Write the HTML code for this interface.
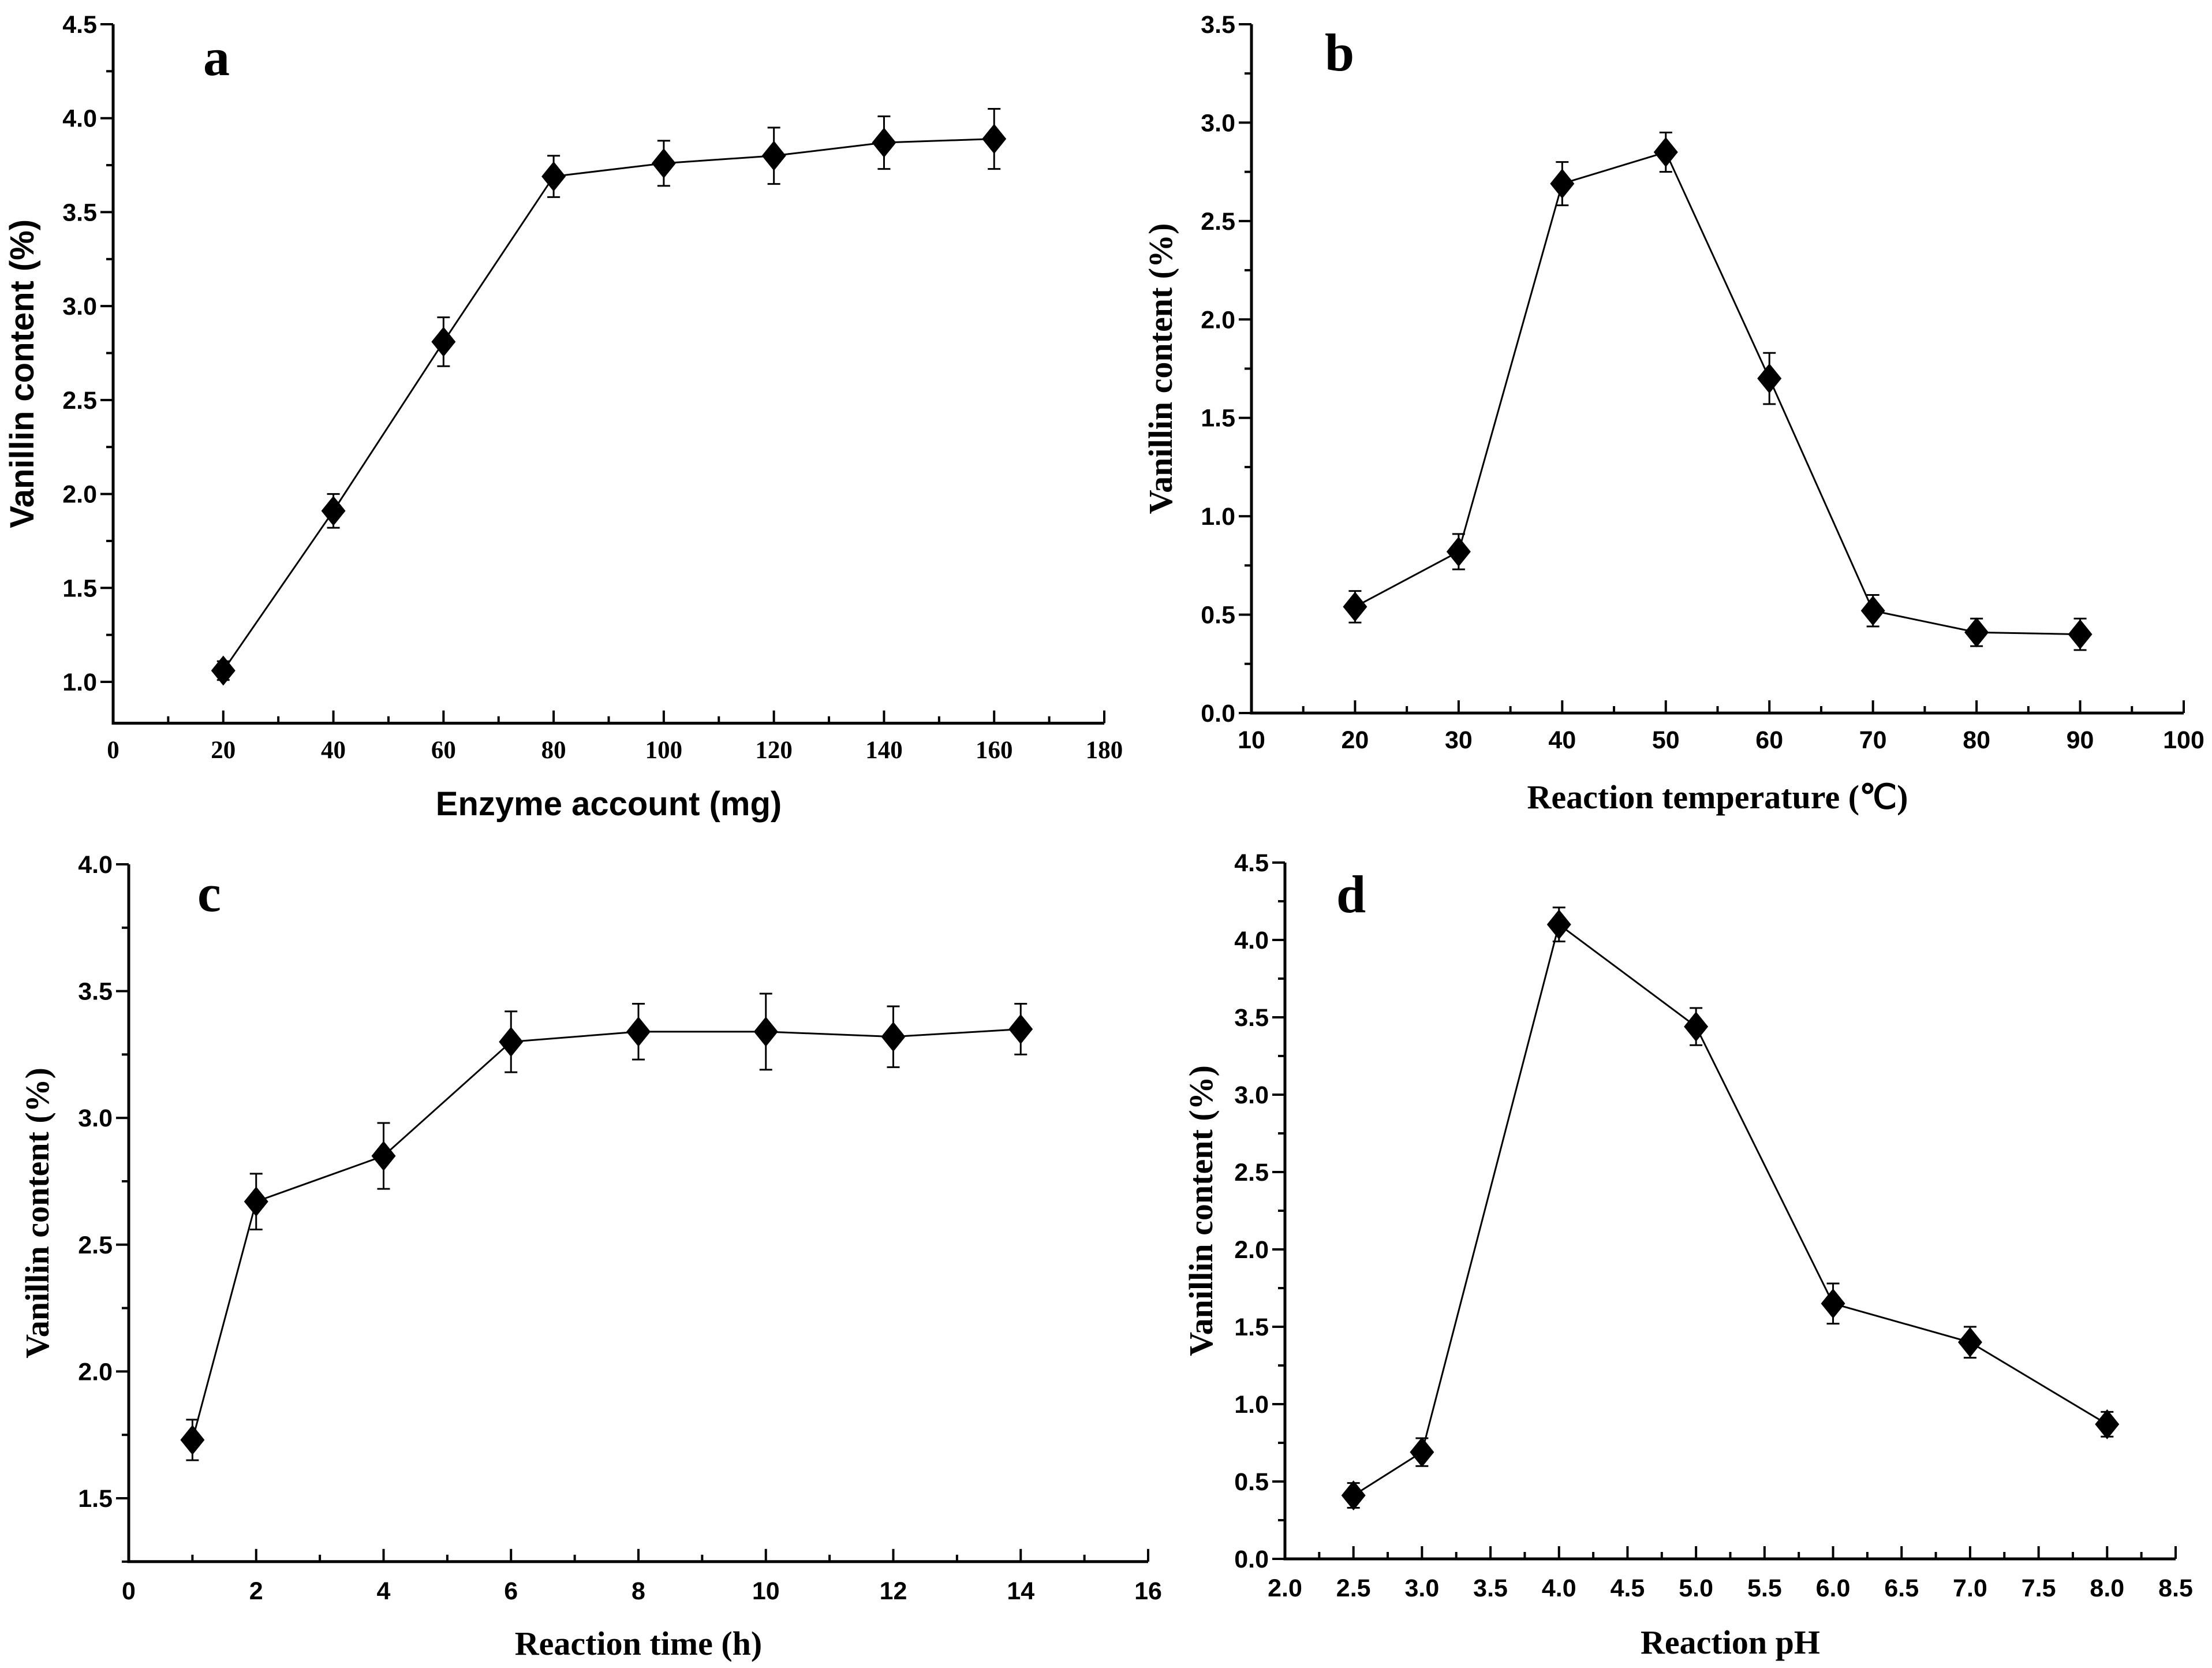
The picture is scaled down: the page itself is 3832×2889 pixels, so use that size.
<!DOCTYPE html>
<html><head><meta charset="utf-8">
<style>
html,body{margin:0;padding:0;background:#fff;}
svg{display:block;}
</style></head>
<body>
<svg id="fig" width="3832" height="2889" viewBox="0 0 3832 2889" xmlns="http://www.w3.org/2000/svg"></svg>
<script>
// Panel a
const aX = [20,40,60,80,100,120,140,160];
const aY = [1.06,1.91,2.81,3.69,3.76,3.80,3.87,3.89];
const aErr = [0.05,0.09,0.13,0.11,0.12,0.15,0.14,0.16];
const aXTicks = [0,20,40,60,80,100,120,140,160,180];
const aYTicks = [1.0,1.5,2.0,2.5,3.0,3.5,4.0,4.5];
// Panel b
const bX = [20,30,40,50,60,70,80,90];
const bY = [0.54,0.82,2.69,2.85,1.70,0.52,0.41,0.40];
const bErr = [0.08,0.09,0.11,0.10,0.13,0.08,0.07,0.08];
const bXTicks = [10,20,30,40,50,60,70,80,90,100];
const bYTicks = [0.0,0.5,1.0,1.5,2.0,2.5,3.0,3.5];
// Panel c
const cX = [1,2,4,6,8,10,12,14];
const cY = [1.73,2.67,2.85,3.30,3.34,3.34,3.32,3.35];
const cErr = [0.08,0.11,0.13,0.12,0.11,0.15,0.12,0.10];
const cXTicks = [0,2,4,6,8,10,12,14,16];
const cYTicks = [1.5,2.0,2.5,3.0,3.5,4.0];
// Panel d
const dX = [2.5,3.0,4.0,5.0,6.0,7.0,8.0];
const dY = [0.41,0.69,4.10,3.44,1.65,1.40,0.87];
const dErr = [0.08,0.09,0.11,0.12,0.13,0.10,0.08];
const dXTicks = [2.0,2.5,3.0,3.5,4.0,4.5,5.0,5.5,6.0,6.5,7.0,7.5,8.0,8.5];
const dYTicks = [0.0,0.5,1.0,1.5,2.0,2.5,3.0,3.5,4.0,4.5];

const NS = 'http://www.w3.org/2000/svg';
const svg = document.getElementById('fig');
function mk(tag, attrs, parent){
  const e = document.createElementNS(NS, tag);
  for (const k in attrs) e.setAttribute(k, attrs[k]);
  (parent||svg).appendChild(e);
  return e;
}
const SANS = '"Liberation Sans", Arial, sans-serif';
const SERIF = '"Liberation Serif", "Times New Roman", serif';

function panel(p){
  const g = mk('g', {});
  
  
  const xs = v => p.L + (v - p.xmin) / (p.xmax - p.xmin) * (p.R - p.L);
  const ys = v => p.y0px + (v - p.y0) / (p.y1 - p.y0) * (p.y1px - p.y0px);
  const B = ys(p.ymin), T = ys(p.ymax);
  const ax = mk('path', {d:`M${p.L},${T} L${p.L},${B} L${p.R},${B}`, fill:'none', stroke:'#000', 'stroke-width':5}, g);
  
  
  const yStep = p.yt[1] - p.yt[0];
  for (let i = 0; i < p.yt.length; i++){
    const v = p.yt[i], y = ys(v);
    mk('line', {x1:p.L-22, x2:p.L, y1:y, y2:y, stroke:'#000', 'stroke-width':4}, g);
    const m = v + yStep/2;
    if (m <= p.ymax + 1e-9) { const ym = ys(m); mk('line', {x1:p.L-12, x2:p.L, y1:ym, y2:ym, stroke:'#000', 'stroke-width':4}, g); }
    if (i === 0) { const m2 = v - yStep/2; if (m2 >= p.ymin - 1e-9) { const ym = ys(m2); mk('line', {x1:p.L-12, x2:p.L, y1:ym, y2:ym, stroke:'#000', 'stroke-width':4}, g); } }
    const t = mk('text', {x:p.L-28, y:y+15, 'text-anchor':'end', 'font-family':SANS, 'font-weight':'bold', 'font-size':43}, g);
    
    
    t.textContent = v.toFixed(1);
  }
  const xStep = p.xt[1] - p.xt[0];
  for (let i = 0; i < p.xt.length; i++){
    const v = p.xt[i], x = xs(v);
    mk('line', {x1:x, x2:x, y1:B, y2:B-22, stroke:'#000', 'stroke-width':4}, g);
    if (i < p.xt.length - 1) { const xm = xs(v + xStep/2); mk('line', {x1:xm, x2:xm, y1:B, y2:B-12, stroke:'#000', 'stroke-width':4}, g); }
    const t = mk('text', {x:x, y:p.xlabY, 'text-anchor':'middle', 'font-family':p.xtickFont, 'font-weight':'bold', 'font-size':43}, g);
    
    
    t.textContent = p.xfmt(v);
  }
  let d = '';
  p.x.forEach((v,i) => { d += (i ? 'L' : 'M') + xs(v) + ',' + ys(p.y[i]); });
  const ln = mk('path', {d:d, fill:'none', stroke:'#000', 'stroke-width':3}, g);
  
  
  p.x.forEach((v,i) => {
    const cx = xs(v), cy = ys(p.y[i]), yt = ys(p.y[i] + p.e[i]), yb = ys(p.y[i] - p.e[i]);
    const eb = mk('path', {d:`M${cx},${yt} L${cx},${yb} M${cx-11},${yt} L${cx+11},${yt} M${cx-11},${yb} L${cx+11},${yb}`, stroke:'#000', 'stroke-width':3, fill:'none'}, g);
    
    
    const mkr = mk('path', {d:`M${cx},${cy-26} L${cx+21},${cy} L${cx},${cy+26} L${cx-21},${cy} Z`, fill:'#000'}, g);
    
    
  });
  const xt = mk('text', {x:(p.L+p.R)/2, y:p.xtitleY, 'text-anchor':'middle', 'font-family':p.titleFont, 'font-weight':'bold', 'font-size':58}, g);
  
  
  xt.textContent = p.xtitle;
  const cyT = (T + B)/2;
  const yt = mk('text', {x:p.ytitleX, y:cyT, 'text-anchor':'middle', 'font-family':p.titleFont, 'font-weight':'bold', 'font-size':58, transform:`rotate(-90 ${p.ytitleX} ${cyT})`}, g);
  
  
  yt.textContent = 'Vanillin content (%)';
  const lt = mk('text', {x:p.letX, y:p.letY, 'font-family':SERIF, 'font-weight':'bold', 'font-size':92}, g);
  
  
  lt.textContent = p.id;
}
const intf = v => String(v);
const f1 = v => v.toFixed(1);
panel({id:'a', x:aX, y:aY, e:aErr, xt:aXTicks, yt:aYTicks, L:196, R:1913, xmin:0, xmax:180,
  y0:1.0, y0px:1181, y1:4.5, y1px:42, ymin:0.78, ymax:4.5, xlabY:1313, xtickFont:SERIF, xfmt:intf,
  titleFont:SANS, xtitle:'Enzyme account (mg)', xtitleY:1412, ytitleX:58, letX:352, letY:130});
panel({id:'b', x:bX, y:bY, e:bErr, xt:bXTicks, yt:bYTicks, L:2168, R:3783, xmin:10, xmax:100,
  y0:0.0, y0px:1235, y1:3.5, y1px:42, ymin:0.0, ymax:3.5, xlabY:1296, xtickFont:SANS, xfmt:intf,
  titleFont:SERIF, xtitle:'Reaction temperature (\u2103)', xtitleY:1400, ytitleX:2030, letX:2295, letY:122});
panel({id:'c', x:cX, y:cY, e:cErr, xt:cXTicks, yt:cYTicks, L:223, R:1989, xmin:0, xmax:16,
  y0:1.5, y0px:2595, y1:4.0, y1px:1497, ymin:1.25, ymax:4.0, xlabY:2770, xtickFont:SANS, xfmt:intf,
  titleFont:SERIF, xtitle:'Reaction time (h)', xtitleY:2866, ytitleX:84, letX:342, letY:1578});
panel({id:'d', x:dX, y:dY, e:dErr, xt:dXTicks, yt:dYTicks, L:2226, R:3769, xmin:2.0, xmax:8.5,
  y0:0.0, y0px:2700, y1:4.5, y1px:1494, ymin:0.0, ymax:4.5, xlabY:2765, xtickFont:SANS, xfmt:f1,
  titleFont:SERIF, xtitle:'Reaction pH', xtitleY:2864, ytitleX:2100, letX:2315, letY:1580});
</script>
</body></html>
